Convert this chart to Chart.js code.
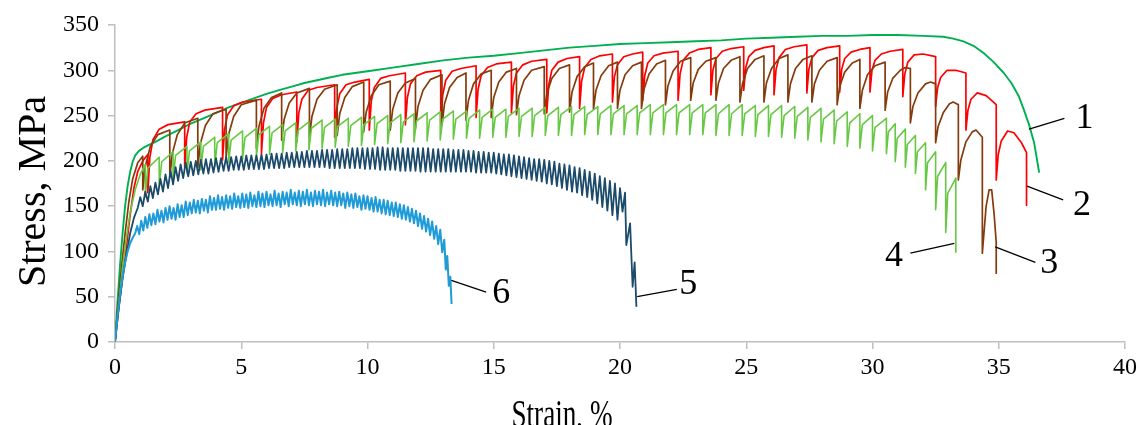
<!DOCTYPE html>
<html>
<head>
<meta charset="utf-8">
<script src="https://cdn.jsdelivr.net/npm/chart.js@4.4.1/dist/chart.umd.min.js"></script>
<style>
  html, body { margin: 0; padding: 0; background: #ffffff; }
  #wrap { width: 1141px; height: 425px; position: relative; overflow: hidden; }
</style>
</head>
<body>
<div id="wrap"><canvas id="chart" width="1141" height="425"></canvas></div>
<script>
// Stress–strain curves, [strain %, stress MPa]

// 1 – smooth curve
const curve1 = [[0,0],[0.1,45],[0.2,85],[0.3,120],[0.4,150],[0.5,172],[0.6,188],[0.7,199],[0.8,206],[0.95,211],[1.1,214],[1.3,217],[1.6,221],[2.0,227],[2.5,234],[3.0,241],[3.5,247],[4.0,253],[4.5,259],[5.0,264],[5.5,269],[6.0,274],[6.5,278],[7.0,282],[7.5,286],[8.0,289],[8.5,292],[9.0,295],[9.5,297],[10.0,299],[11.0,303],[12.0,307],[13.0,311],[14.0,314],[15.0,316],[16.0,319],[17.0,322],[18.0,325],[19.0,327],[20.0,329],[21.0,330],[22.0,331],[23.0,332],[24.0,333],[25.0,335],[26.0,336],[27.0,337],[28.0,338],[29.0,338],[30.0,339],[31.0,339],[32.0,338],[32.8,337],[33.2,335],[33.6,332],[34.0,327],[34.4,319],[34.8,309],[35.2,297],[35.5,286],[35.8,271],[36.0,256],[36.2,240],[36.4,220],[36.5,204],[36.6,187]];

// 2 – large serrations
const curve2 = [[0,0],[0.15,38],[0.3,72],[0.45,105],[0.6,140],[0.75,170],[0.9,188],[1.1,200],[1.3,207],
[1.3,165],[1.38,204],[1.5,223],[1.75,235],[2.1,240],[2.76,243],
[2.76,193],[2.84,226],[2.96,243],[3.21,252],[3.56,256],[4.26,259],
[4.26,201],[4.34,235],[4.46,251],[4.71,261],[5.06,265],[5.8,268],
[5.8,208],[5.88,242],[6.0,259],[6.25,269],[6.6,273],[7.2,276],
[7.2,221],[7.28,253],[7.4,268],[7.65,278],[8.0,281],[8.7,284],
[8.7,226],[8.78,258],[8.9,274],[9.15,284],[9.5,287],[10.07,290],
[10.07,234],[10.15,266],[10.27,281],[10.52,291],[10.87,294],[11.5,297],
[11.5,240],[11.58,270],[11.7,285],[11.95,294],[12.3,298],[12.9,300],
[12.9,241],[12.98,273],[13.1,289],[13.35,299],[13.7,302],[14.3,305],
[14.3,248],[14.38,279],[14.5,294],[14.75,303],[15.1,307],[15.7,309],
[15.7,253],[15.78,283],[15.9,297],[16.15,306],[16.5,310],[17.1,312],
[17.1,253],[17.18,284],[17.3,300],[17.55,309],[17.9,313],[18.4,315],
[18.4,258],[18.48,288],[18.6,303],[18.85,312],[19.2,316],[19.7,318],
[19.7,265],[19.78,293],[19.9,306],[20.15,315],[20.5,318],[20.9,320],
[20.9,267],[20.98,294],[21.1,308],[21.35,316],[21.7,319],[22.3,321],
[22.3,267],[22.38,296],[22.5,311],[22.75,319],[23.1,323],[23.6,325],
[23.6,273],[23.68,300],[23.8,313],[24.05,321],[24.4,324],[24.9,326],
[24.9,278],[24.98,303],[25.1,315],[25.35,322],[25.7,325],[26.1,327],
[26.1,273],[26.18,301],[26.3,314],[26.55,323],[26.9,326],[27.4,328],
[27.4,275],[27.48,301],[27.6,314],[27.85,322],[28.2,325],[28.7,327],
[28.7,276],[28.78,301],[28.9,313],[29.15,320],[29.5,323],[29.9,325],
[29.9,276],[29.98,300],[30.1,311],[30.35,318],[30.7,321],[31.2,323],
[31.2,271],[31.28,296],[31.4,309],[31.65,317],[32.0,318],[32.5,315],
[32.5,260],[32.58,281],[32.7,292],[32.95,300],[33.3,300],[33.7,297],
[33.7,234],[33.78,256],[33.9,268],[34.15,275],[34.5,272],[34.9,262],
[34.9,179],[34.98,207],[35.1,222],[35.35,233],[35.6,231],[35.9,220],[36.1,209],[36.1,151]];

// 3 – large serrations, shorter period
const curve3 = [[0,0],[0.1,35],[0.25,80],[0.4,120],[0.55,155],[0.7,180],[0.9,198],[1.1,205],
[1.1,168],[1.2,194],[1.4,216],[1.7,229],[2.17,234],
[2.17,182],[2.27,208],[2.47,229],[2.77,242],[3.28,247],
[3.28,193],[3.38,219],[3.58,239],[3.88,252],[4.4,257],
[4.4,204],[4.5,229],[4.7,249],[5.0,262],[5.6,267],
[5.6,214],[5.7,238],[5.9,258],[6.2,270],[6.6,275],
[6.6,223],[6.7,246],[6.9,264],[7.2,275],[7.7,280],
[7.7,226],[7.8,249],[8.0,268],[8.3,279],[8.8,284],
[8.8,228],[8.9,252],[9.1,270],[9.4,282],[9.85,287],
[9.85,232],[9.95,254],[10.15,272],[10.45,284],[10.9,288],
[10.9,234],[11.0,257],[11.2,275],[11.5,286],[11.9,291],
[11.9,236],[12.0,260],[12.2,278],[12.5,290],[12.95,295],
[12.95,240],[13.05,263],[13.25,281],[13.55,292],[13.9,297],
[13.9,245],[14.0,267],[14.2,285],[14.5,296],[14.9,300],
[14.9,248],[15.0,270],[15.2,287],[15.5,298],[15.9,302],
[15.9,251],[16.0,272],[16.2,289],[16.5,300],[17.0,304],
[17.0,252],[17.1,274],[17.3,291],[17.6,302],[18.0,306],
[18.0,254],[18.1,276],[18.3,293],[18.6,304],[18.95,308],
[18.95,257],[19.05,278],[19.25,294],[19.55,305],[19.9,309],
[19.9,258],[20.0,278],[20.2,295],[20.5,305],[20.85,309],
[20.85,258],[20.95,279],[21.15,296],[21.45,307],[21.8,311],
[21.8,262],[21.9,283],[22.1,299],[22.4,310],[22.8,314],
[22.8,267],[22.9,286],[23.1,301],[23.4,310],[23.8,314],
[23.8,267],[23.9,286],[24.1,302],[24.4,311],[24.75,315],
[24.75,265],[24.85,285],[25.05,302],[25.35,312],[25.7,316],
[25.7,265],[25.8,286],[26.0,302],[26.3,313],[26.65,317],
[26.65,265],[26.75,285],[26.95,302],[27.25,312],[27.6,316],
[27.6,265],[27.7,285],[27.9,300],[28.2,310],[28.6,314],
[28.6,262],[28.7,282],[28.9,298],[29.2,308],[29.5,312],
[29.5,258],[29.6,278],[29.8,295],[30.1,305],[30.5,309],
[30.5,256],[30.6,276],[30.8,291],[31.1,300],[31.3,303],[31.5,302],
[31.5,242],[31.6,260],[31.8,275],[32.1,285],[32.3,287],[32.5,285],
[32.5,220],[32.6,238],[32.8,253],[33.05,263],[33.2,265],[33.4,262],
[33.4,179],[33.5,201],[33.7,221],[33.95,232],[34.1,234],[34.35,226],
[34.35,98],[34.5,150],[34.62,168],[34.72,168],[34.82,140],[34.9,110],[34.9,76]];

// 4 – regular serrations
const curve4 = [[0,0],[0.15,42],[0.3,82],[0.45,115],[0.6,143],[0.8,168],[1.0,185],[1.2,196],
[1.2,160],[1.3,192],[1.75,204],[1.75,172],[1.85,199],[2.3,210],[2.3,180],[2.4,206],[2.85,216],
[2.85,186],[2.95,211],[3.4,221],[3.4,190],[3.5,216],[3.95,226],[3.95,194],[4.05,220],[4.5,230],
[4.5,198],[4.6,223],[5.05,233],[5.05,202],[5.15,226],[5.6,236],[5.6,205],[5.7,229],[6.12,238],
[6.12,207],[6.22,231],[6.64,240],[6.64,209],[6.74,233],[7.16,242],[7.16,211],[7.26,234],[7.68,243],
[7.68,212],[7.78,236],[8.2,245],[8.2,214],[8.3,237],[8.72,246],[8.72,215],[8.82,238],[9.24,247],
[9.24,216],[9.34,239],[9.76,248],[9.76,217],[9.86,240],[10.28,249],[10.28,218],[10.38,241],[10.8,250],
[10.8,219],[10.9,242],[11.32,251],[11.32,220],[11.42,243],[11.84,252],[11.84,221],[11.94,244],[12.36,253],
[12.36,222],[12.46,245],[12.88,254],[12.88,223],[12.98,246],[13.4,255],[13.4,224],[13.5,246],[13.92,255],
[13.92,225],[14.02,247],[14.44,256],[14.44,225],[14.54,248],[14.96,257],[14.96,226],[15.06,248],[15.48,257],
[15.48,226],[15.58,249],[16.0,258],[16.0,227],[16.1,249],[16.52,258],[16.52,227],[16.62,250],[17.04,259],
[17.04,228],[17.14,250],[17.56,259],[17.56,228],[17.66,251],[18.08,260],[18.08,228],[18.18,251],[18.6,260],
[18.6,229],[18.7,251],[19.12,260],[19.12,229],[19.22,252],[19.64,261],[19.64,229],[19.74,252],[20.16,261],
[20.16,229],[20.26,252],[20.68,261],[20.68,229],[20.78,253],[21.2,262],[21.2,229],[21.3,253],[21.72,262],
[21.72,229],[21.82,253],[22.24,262],[22.24,229],[22.34,253],[22.76,262],[22.76,229],[22.86,253],[23.28,262],
[23.28,229],[23.38,253],[23.8,262],[23.8,228],[23.9,252],[24.32,262],[24.32,228],[24.42,252],[24.84,262],
[24.84,228],[24.94,252],[25.36,261],[25.36,227],[25.46,251],[25.88,261],[25.88,227],[25.98,251],[26.4,261],
[26.4,226],[26.5,250],[26.92,260],[26.92,225],[27.02,249],[27.44,259],[27.44,223],[27.54,248],[27.96,258],
[27.96,221],[28.06,246],[28.48,256],[28.48,219],[28.58,244],[29.0,254],[29.0,216],[29.1,242],[29.5,252],
[29.5,214],[29.6,240],[30.0,250],[30.0,211],[30.1,237],[30.55,247],[30.55,208],[30.63,232],[30.9,241],
[30.9,199],[30.98,225],[31.3,235],[31.3,193],[31.38,218],[31.7,228],[31.7,186],[31.78,210],[32.1,220],
[32.1,168],[32.18,198],[32.5,210],[32.5,146],[32.58,183],[32.9,198],[32.9,121],[32.98,164],[33.3,181],[33.3,99]];

// 5 – fine regular serrations
const curve5 = [[0,0],[0.15,38],[0.3,70],[0.45,96],[0.6,120],[0.75,137],[0.9,148],
[1.0,160],[1.1,150],[1.2,166],[1.3,155],[1.4,172],[1.5,159],[1.6,176],[1.7,163],[1.8,180],[1.9,166],[2.0,185],[2.1,170],[2.2,189],[2.3,174],[2.4,193],[2.5,178],[2.6,196],[2.7,181],[2.8,198],[2.9,183],[3.0,199],[3.1,184],[3.2,200],[3.3,185],[3.4,201],[3.5,186],[3.6,202],[3.7,186],[3.8,202],[3.9,187],[4.0,203],[4.1,188],[4.2,203],[4.3,189],[4.4,204],[4.5,189],[4.6,204],[4.7,190],[4.8,205],[4.9,190],[5.0,205],[5.1,190],[5.2,206],[5.3,191],[5.4,206],[5.5,191],[5.6,206],[5.7,191],[5.8,207],[5.9,191],[6.0,207],[6.1,192],[6.2,208],[6.3,192],[6.4,208],[6.5,192],[6.6,208],[6.7,192],[6.8,209],[6.9,193],[7.0,209],[7.1,193],[7.2,210],[7.3,193],[7.4,210],[7.5,193],[7.6,211],[7.7,193],[7.8,211],[7.9,193],[8.0,211],[8.1,193],[8.2,212],[8.3,193],[8.4,212],[8.5,192],[8.6,212],[8.7,192],[8.8,213],[8.9,192],[9.0,213],[9.1,192],[9.2,213],[9.3,192],[9.4,214],[9.5,192],[9.6,214],[9.7,192],[9.8,214],[9.9,191],[10.0,214],[10.1,191],[10.2,214],[10.3,191],[10.4,215],[10.5,190],[10.6,215],[10.7,190],[10.8,214],[10.9,190],[11.0,214],[11.1,190],[11.2,214],[11.3,189],[11.4,214],[11.5,189],[11.6,214],[11.7,189],[11.8,214],[11.9,189],[12.0,214],[12.1,188],[12.2,214],[12.3,188],[12.4,214],[12.5,188],[12.6,213],[12.7,188],[12.8,213],[12.9,188],[13.0,213],[13.1,188],[13.2,213],[13.3,188],[13.4,212],[13.5,188],[13.6,212],[13.7,188],[13.8,212],[13.9,188],[14.0,211],[14.1,188],[14.2,211],[14.3,187],[14.4,210],[14.5,187],[14.6,210],[14.7,187],[14.8,209],[14.9,187],[15.0,209],[15.1,186],[15.2,208],[15.3,185],[15.4,207],[15.5,184],[15.6,207],[15.7,183],[15.8,206],[15.9,182],[16.0,205],[16.1,181],[16.2,204],[16.3,180],[16.4,203],[16.5,179],[16.6,202],[16.7,178],[16.8,202],[16.9,177],[17.0,201],[17.1,175],[17.2,200],[17.3,174],[17.4,199],[17.5,172],[17.6,197],[17.7,170],[17.8,196],[17.9,168],[18.0,195],[18.1,166],[18.2,193],[18.3,165],[18.4,192],[18.5,162],[18.6,190],[18.7,160],[18.8,188],[18.9,157],[19.0,186],[19.1,153],[19.2,183],[19.3,149],[19.4,181],[19.5,145],[19.6,178],[19.7,140],[19.8,175],[19.9,135],[20.0,170],[20.1,144],[20.2,165],[20.25,107],[20.4,131],[20.5,61],[20.58,88],[20.65,39]];

// 6 – noisy low-stress curve
const curve6 = [[0,0],[0.1,28],[0.2,52],[0.3,72],[0.4,88],[0.5,100],[0.6,109],[0.7,115],[0.8,120],
[0.88,128],[0.96,119],[1.04,134],[1.12,123],[1.2,138],[1.28,126],[1.36,141],[1.44,129],[1.52,142],[1.6,130],[1.68,146],[1.76,133],[1.84,145],[1.92,132],[2.0,148],[2.08,135],[2.16,150],[2.24,136],[2.32,148],[2.4,135],[2.48,152],[2.56,138],[2.64,151],[2.72,138],[2.8,155],[2.88,140],[2.96,154],[3.04,142],[3.12,157],[3.2,143],[3.28,156],[3.36,142],[3.44,158],[3.52,145],[3.6,157],[3.68,143],[3.76,161],[3.84,146],[3.92,159],[4.0,146],[4.08,162],[4.16,147],[4.24,160],[4.32,146],[4.4,162],[4.48,148],[4.56,161],[4.64,147],[4.72,164],[4.8,149],[4.88,161],[4.96,148],[5.04,164],[5.12,149],[5.2,163],[5.28,148],[5.36,165],[5.44,150],[5.52,162],[5.6,149],[5.68,166],[5.76,150],[5.84,164],[5.92,149],[6.0,166],[6.08,151],[6.16,163],[6.24,150],[6.32,167],[6.4,151],[6.48,164],[6.56,149],[6.64,166],[6.72,152],[6.8,165],[6.88,150],[6.96,168],[7.04,152],[7.12,165],[7.2,151],[7.28,167],[7.36,150],[7.44,166],[7.52,152],[7.6,168],[7.68,151],[7.76,165],[7.84,150],[7.92,167],[8.0,152],[8.08,166],[8.16,151],[8.24,168],[8.32,150],[8.4,165],[8.48,152],[8.56,167],[8.64,151],[8.72,165],[8.8,150],[8.88,166],[8.96,151],[9.04,164],[9.12,148],[9.2,165],[9.28,150],[9.36,163],[9.44,148],[9.52,164],[9.6,149],[9.68,161],[9.76,146],[9.84,162],[9.92,147],[10.0,161],[10.08,146],[10.16,159],[10.24,144],[10.32,160],[10.4,144],[10.48,157],[10.56,142],[10.64,157],[10.72,141],[10.8,156],[10.88,140],[10.96,154],[11.04,139],[11.12,154],[11.2,138],[11.28,152],[11.36,136],[11.44,151],[11.52,135],[11.6,149],[11.68,133],[11.76,147],[11.84,131],[11.92,145],[12.0,128],[12.08,142],[12.16,125],[12.24,139],[12.32,122],[12.4,136],[12.48,118],[12.56,133],[12.64,114],[12.72,128],[12.8,108],[12.88,124],[12.96,99],[13.04,113],[13.1,80],[13.16,95],[13.22,62],[13.28,72],[13.33,42]];

// Axis ranges and tick steps
const strainRange = [0, 40];
const stressRange = [0, 350];
const strainStep = 5;
const stressStep = 50;

// Curve numbers with leader lines (strain, stress)
const curveNames = ['1', '2', '3', '4', '5', '6'];
const nameAt   = [[38.4, 247], [38.3, 151], [37.0, 87], [30.85, 94], [22.7, 63], [15.3, 54]];
const leadFrom = [[36.2, 235], [36.12, 172], [34.86, 105], [33.24, 109], [20.68, 50], [13.32, 68]];
const leadTo   = [[37.6, 247], [37.55, 157], [36.45, 88], [31.5, 98], [22.25, 58], [14.7, 55]];

const SERIF = '"Liberation Serif", "Times New Roman", serif';
const AXIS_GREY = '#bfbfbf';

const toXY = pts => pts.map(p => ({ x: p[0], y: p[1] }));

function series(pts, color, width) {
  return {
    data: toXY(pts),
    borderColor: color,
    borderWidth: width,
    pointRadius: 0,
    showLine: true,
    fill: false,
    tension: 0,
    borderJoinStyle: 'round'
  };
}

const annotate = {
  id: 'annotate',
  afterDatasetsDraw(chart) {
    const { ctx, chartArea, scales: { x, y } } = chart;
    ctx.save();
    // leader lines
    ctx.strokeStyle = '#000000';
    ctx.lineWidth = 1.3;
    for (let i = 0; i < curveNames.length; i++) {
      ctx.beginPath();
      ctx.moveTo(x.getPixelForValue(leadFrom[i][0]), y.getPixelForValue(leadFrom[i][1]));
      ctx.lineTo(x.getPixelForValue(leadTo[i][0]), y.getPixelForValue(leadTo[i][1]));
      ctx.stroke();
    }
    // curve numbers
    ctx.fillStyle = '#000000';
    ctx.font = '36px ' + SERIF;
    ctx.textAlign = 'center';
    ctx.textBaseline = 'middle';
    for (let i = 0; i < curveNames.length; i++) {
      ctx.fillText(curveNames[i], x.getPixelForValue(nameAt[i][0]), y.getPixelForValue(nameAt[i][1]));
    }
    // axis titles
    ctx.font = '40px ' + SERIF;
    ctx.textBaseline = 'alphabetic';
    ctx.save();
    ctx.translate(562, 427);
    ctx.scale(0.68, 1);
    ctx.fillText('Strain, %', 0, 0);
    ctx.restore();
    ctx.translate(45, (chartArea.top + chartArea.bottom) / 2 + 8);
    ctx.rotate(-Math.PI / 2);
    ctx.fillText('Stress, MPa', 0, 0);
    ctx.restore();
  }
};

new Chart(document.getElementById('chart'), {
  type: 'scatter',
  data: {
    datasets: [
      series(curve6, '#1f9bd7', 2),
      series(curve5, '#1b4a6b', 1.8),
      series(curve4, '#66c843', 1.6),
      series(curve3, '#843c0c', 1.7),
      series(curve2, '#ff0000', 1.7),
      series(curve1, '#00b050', 1.9)
    ]
  },
  options: {
    responsive: false,
    devicePixelRatio: 1,
    animation: false,
    layout: { padding: { left: 0, top: 25, right: 13, bottom: 0 } },
    plugins: { legend: { display: false }, tooltip: { enabled: false } },
    scales: {
      x: {
        type: 'linear',
        min: strainRange[0],
        max: strainRange[1],
        afterFit: s => { s.height = 83; },
        border: { color: AXIS_GREY, width: 1.5 },
        grid: { drawOnChartArea: false, drawTicks: true, tickLength: 7, color: AXIS_GREY, lineWidth: 1.5 },
        ticks: { stepSize: strainStep, color: '#000000', padding: 4, maxRotation: 0, font: { family: SERIF, size: 24 } }
      },
      y: {
        type: 'linear',
        min: stressRange[0],
        max: stressRange[1],
        afterFit: s => { s.width = 115; },
        border: { color: AXIS_GREY, width: 1.5 },
        grid: { drawOnChartArea: false, drawTicks: true, tickLength: 7, color: AXIS_GREY, lineWidth: 1.5 },
        ticks: { stepSize: stressStep, color: '#000000', padding: 9, font: { family: SERIF, size: 24 } }
      }
    }
  },
  plugins: [annotate]
});
</script>
</body>
</html>
